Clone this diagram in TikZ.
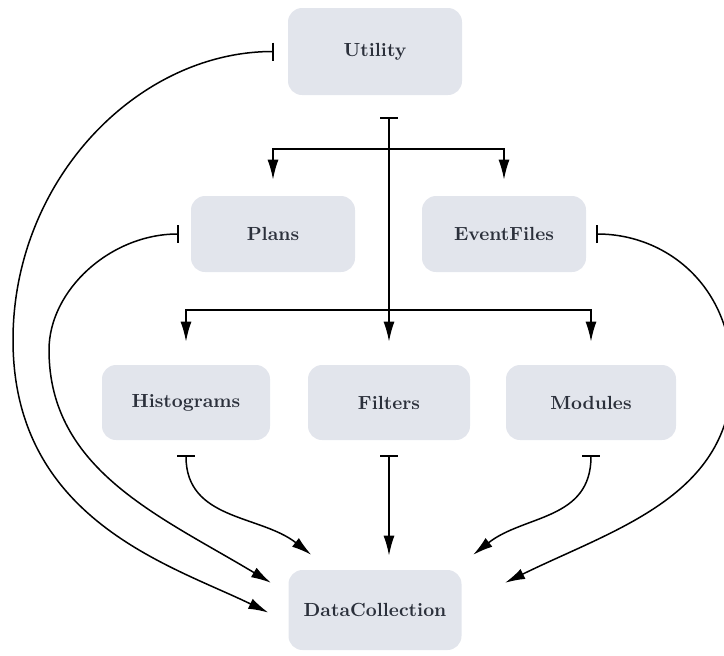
\documentclass[tikz,border=0pt]{standalone}
\usetikzlibrary{arrows.meta}
\definecolor{boxfill}{HTML}{E2E5EC}
\definecolor{boxtext}{HTML}{2B303B}

\begin{document}
\begin{tikzpicture}[x=0.5pt, y=-0.5pt,
    box/.style={rounded corners=7pt, fill=boxfill, text=boxtext,
        font=\fontsize{9.5}{11}\selectfont\bfseries, minimum height=38pt},
    link/.style={line width=0.75pt, -{Latex[length=10pt,width=5.5pt]}},
    uses/.style={line width=0.75pt, {Bar[width=9pt]}-{Latex[length=10pt,width=5.5pt]}}]
    \useasboundingbox (0,0) rectangle (724,655);

    \node[box, minimum width=87pt, minimum height=43.5pt] (util) at (375,51.5) {Utility};
    \node[box, minimum width=82pt] (plans) at (273,234) {Plans};
    \node[box, minimum width=82pt] (events) at (504,234) {EventFiles};
    \node[box, minimum width=84pt, minimum height=37.5pt] (hist) at (186,402.5) {Histograms};
    \node[box, minimum width=81pt, minimum height=37.5pt] (filt) at (389,402.5) {Filters};
    \node[box, minimum width=85pt, minimum height=37.5pt] (mods) at (591,402.5) {Modules};
    \node[box, minimum width=86.5pt, minimum height=40pt] (dc) at (375,610) {DataCollection};

    \coordinate (tap) at (389,117);
    \coordinate (fork1) at (389,149);
    \coordinate (fork2) at (389,310);

    \draw[uses, shorten >=11.5pt] (tap) -- (filt.north);
    \draw[link, shorten >=8pt] (fork1) -| (plans.north);
    \draw[link, shorten >=8pt] (fork1) -| (events.north);
    \draw[link, shorten >=11.5pt] (fork2) -| (hist.north);
    \draw[link, shorten >=11.5pt] (fork2) -| (mods.north);

    \coordinate (wpA) at (13,340);
    \coordinate (wpB) at (49,350);
    \coordinate (wpC) at (732,376);

    \draw[uses, shorten <=7pt, shorten >=11pt] (util.west)
        .. controls +(-150,0) and +(0,-160) .. (wpA)
        .. controls +(0,180) and +(-117,-57) .. (dc.188);
    \draw[uses, shorten <=6pt, shorten >=10pt] (plans.west)
        .. controls +(-80,0) and +(0,-60) .. (wpB)
        .. controls +(0,120) and +(-128,-77) .. (dc.169);
    \draw[uses, shorten <=5pt, shorten >=24pt] (events.east)
        .. controls +(80,0) and +(0,-90) .. (wpC)
        .. controls +(0,120) and +(153,-75) .. (dc.4);

    \draw[uses, shorten <=7.5pt, shorten >=12pt] (hist.south)
        .. controls +(0,80) and +(-70,-55) .. (dc.138);
    \draw[uses, shorten <=7.5pt, shorten >=7pt] (filt.south) -- (filt.south |- dc.north);
    \draw[uses, shorten <=7.5pt, shorten >=12pt] (mods.south)
        .. controls +(0,80) and +(70,-55) .. (dc.27);
\end{tikzpicture}
\end{document}
